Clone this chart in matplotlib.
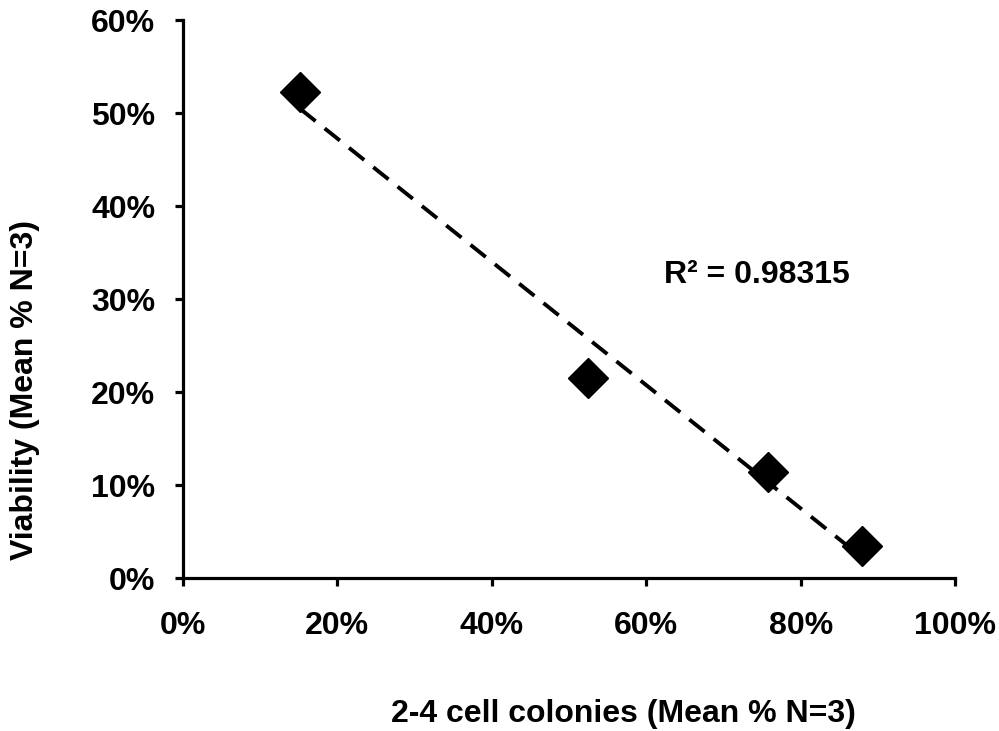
import matplotlib
matplotlib.use("Agg")
import matplotlib.pyplot as plt
import numpy as np
from matplotlib.ticker import FuncFormatter, MultipleLocator

plt.rcParams['font.family'] = ['Liberation Sans', 'DejaVu Sans']
plt.rcParams['font.weight'] = 'bold'

colonies = [15.2, 52.5, 75.8, 88.0]   # 2-4 cell colonies (%)
viability = [52.3, 21.5, 11.4, 3.4]   # Viability (%)
r2_label = "R² = 0.98315"

fig = plt.figure(figsize=(9.99, 7.31), dpi=100)
ax = fig.add_axes([0.1832, 0.2093, 0.956 - 0.1832, 0.9726 - 0.2093])

x = np.array(colonies)
y = np.array(viability)
m, b = np.polyfit(x, y, 1)
xs = np.array([x.min(), x.max()])
ax.plot(xs, m * xs + b, color='black', lw=2.8, dashes=(5, 3), zorder=1)
ax.plot(x, y, linestyle='none', marker='D', markersize=20, color='black', zorder=2)

ax.set_xlim(0, 100)
ax.set_ylim(0, 60)
ax.xaxis.set_major_locator(MultipleLocator(20))
ax.yaxis.set_major_locator(MultipleLocator(10))
fmt = FuncFormatter(lambda v, p: f"{v:.0f}%")
ax.xaxis.set_major_formatter(fmt)
ax.yaxis.set_major_formatter(fmt)

for s in ['top', 'right']:
    ax.spines[s].set_visible(False)
for s in ['left', 'bottom']:
    ax.spines[s].set_linewidth(2.3)
ax.tick_params(direction='out', length=6, width=2.3, labelsize=23)
ax.tick_params(axis='y', pad=14)
ax.tick_params(axis='x', pad=18)
for lbl in ax.get_xticklabels() + ax.get_yticklabels():
    lbl.set_fontweight('bold')

ax.text(62.3, 32.6, r2_label, fontsize=23, fontweight='bold', va='center', ha='left')

fig.text(25 / 999, 1 - 390 / 731, "Viability (Mean % N=3)", rotation=90, fontsize=23,
         fontweight='bold', ha='center', va='center')
fig.text(623 / 999, 1 - 714 / 731, "2-4 cell colonies (Mean % N=3)", fontsize=23,
         fontweight='bold', ha='center', va='center')

fig.savefig("out.png", dpi=100)
